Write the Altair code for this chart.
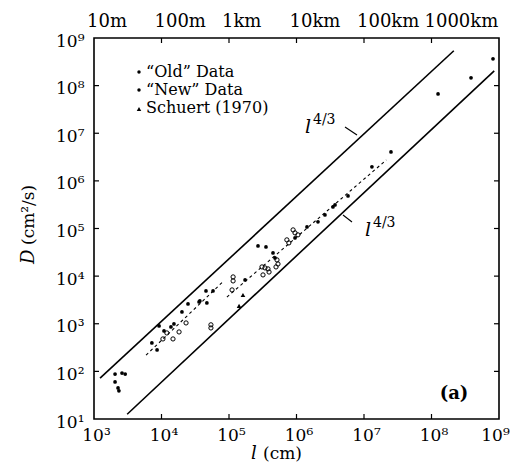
import altair as alt
import pandas as pd

# ---------------- data ----------------
old_l = [2.05e3, 2.6e3, 2.9e3, 2.05e3, 2.27e3, 2.34e3,
         7.2e3, 8.6e3, 9.2e3, 1.09e4, 1.38e4, 1.53e4,
         2.01e4, 2.47e4, 3.6e4, 4.7e4, 4.56e4, 5.8e4, 3.7e4,
         1.73e5, 2.69e5, 3.53e5, 4.49e5, 4.8e5, 9.5e5,
         1.43e6, 2.08e6, 2.64e6, 3.47e6, 3.72e6, 5.8e6,
         1.31e7, 2.51e7, 1.25e8, 3.85e8, 8.15e8]
old_D = [88, 92, 88, 60, 45, 39,
         395, 282, 900, 706, 857, 990,
         1770, 2600, 2870, 2740, 4890, 4890, 3010,
         8300, 43000, 41000, 30700, 24100, 63500,
         1.08e5, 1.38e5, 1.93e5, 2.84e5, 3.13e5, 4.84e5,
         1.97e6, 4.06e6, 6.7e7, 1.46e8, 3.66e8]

new_l = [1.05e4, 1.2e4, 1.48e4, 1.82e4, 2.31e4,
         1.15e5, 1.15e5, 1.11e5, 5.4e4, 5.4e4,
         3.08e5, 3.41e5, 3.78e5, 5.14e5, 5.32e5, 3.19e5, 3.92e5, 4.97e5,
         7.2e5, 7.7e5, 8.9e5, 9.5e5, 1.05e6]
new_D = [480, 641, 480, 673, 1040,
         9620, 7930, 5130, 816, 950,
         15600, 14900, 14200, 21900, 18000, 10600, 12200, 15600,
         57700, 49800, 93500, 81000, 73500]

sch_l = [1.61e5, 1.41e5]
sch_D = [4030, 2370]

upper_l = [1.23e3, 2.14e8]
upper_D = [72, 5.4e8]
lower_l = [3.1e3, 8.5e8]
lower_D = [12.6, 2.04e8]

dash1_l = [5.9e3, 8.1e4]
dash1_D = [219, 7590]
dash2_l = [9.3e4, 2.14e7]
dash2_D = [3630, 2.75e6]

x_ticks = [1e3, 1e4, 1e5, 1e6, 1e7, 1e8, 1e9]
y_ticks = [1e1, 1e2, 1e3, 1e4, 1e5, 1e6, 1e7, 1e8, 1e9]
top_vals = [1e3, 1e4, 1e5, 1e6, 1e7, 1e8]
top_labels = ["10m", "100m", "1km", "10km", "100km", "1000km"]

legend_labels = ["\u201cOld\u201d Data", "\u201cNew\u201d Data", "Schuert (1970)"]

# ---------------- layout ----------------
W, H = 405, 381
FONT = "DejaVu Serif"
sup = "'10' + ['\u2070','\u00b9','\u00b2','\u00b3','\u2074','\u2075','\u2076','\u2077','\u2078','\u2079'][round(log(datum.value)/LN10)]"

xs = alt.Scale(type="log", domain=[1e3, 1e9], nice=False)
ys = alt.Scale(type="log", domain=[1e1, 1e9], nice=False)

x_axis = alt.Axis(values=x_ticks, labelExpr=sup, ticks=False, domain=False, grid=False, title=None,
                  labelFontSize=17, labelPadding=8, labelFont=FONT, labelColor="black",
                  labelFlush=False,
                  labelOffset={"condition": {"test": "datum.value >= 1e9", "value": -4}, "value": 2})
y_axis = alt.Axis(values=y_ticks, labelExpr=sup, ticks=False, domain=False, grid=False, title=None,
                  labelFontSize=17, labelPadding=10, labelFont=FONT, labelColor="black",
                  labelFlush=False, labelBaseline="middle", labelOffset=3)

X = alt.X("l:Q", scale=xs, axis=x_axis)
Y = alt.Y("D:Q", scale=ys, axis=y_axis)

old_df = pd.DataFrame({"l": old_l, "D": old_D})
new_df = pd.DataFrame({"l": new_l, "D": new_D})
sch_df = pd.DataFrame({"l": sch_l, "D": sch_D})
lines_df = pd.DataFrame({
    "l": upper_l + lower_l,
    "D": upper_D + lower_D,
    "g": ["u", "u", "w", "w"],
})
dash_df = pd.DataFrame({
    "l": dash1_l + dash2_l,
    "D": dash1_D + dash2_D,
    "g": ["a", "a", "b", "b"],
})

old_pts = alt.Chart(old_df).mark_circle(size=14, color="black", opacity=1).encode(x=X, y=Y)
new_pts = alt.Chart(new_df).mark_point(shape="circle", filled=False, size=18, strokeWidth=1,
                                       color="black", opacity=1).encode(x=X, y=Y)
sch_pts = alt.Chart(sch_df).mark_point(shape="triangle-up", filled=True, size=22,
                                       color="black", opacity=1).encode(x=X, y=Y)

solid = alt.Chart(lines_df).mark_line(color="black", strokeWidth=1.6).encode(x=X, y=Y, detail="g:N")
dashed = alt.Chart(dash_df).mark_line(color="black", strokeWidth=1.1, strokeDash=[3, 3]).encode(
    x=X, y=Y, detail="g:N")

# inward ticks
xt_df = pd.DataFrame({"l": x_ticks[1:-1]})
yt_df = pd.DataFrame({"D": y_ticks[1:-1]})
tick_bottom = alt.Chart(xt_df).mark_rule(color="black", strokeWidth=1.2).encode(
    x=X, y=alt.value(H), y2=alt.value(H - 5))
tick_top = alt.Chart(xt_df).mark_rule(color="black", strokeWidth=1.2).encode(
    x=X, y=alt.value(0), y2=alt.value(5))
tick_left = alt.Chart(yt_df).mark_rule(color="black", strokeWidth=1.2).encode(
    y=Y, x=alt.value(0), x2=alt.value(5))
tick_right = alt.Chart(yt_df).mark_rule(color="black", strokeWidth=1.2).encode(
    y=Y, x=alt.value(W), x2=alt.value(W - 5))

# top axis labels (length units)
top_df = pd.DataFrame({"l": top_vals, "t": top_labels})
top_text = alt.Chart(top_df).mark_text(align="left", baseline="alphabetic", dx=-7, fontSize=18,
                                       font=FONT, color="black").encode(
    x=X, y=alt.value(-11), text="t:N")


def txt(s, x, y, size=17, style="normal", weight="normal", angle=0, align="left", baseline="alphabetic"):
    return alt.Chart(pd.DataFrame({"t": [s]})).mark_text(
        align=align, baseline=baseline, fontSize=size, font=FONT, fontStyle=style,
        fontWeight=weight, angle=angle, color="black").encode(
        x=alt.value(x), y=alt.value(y), text="t:N")


def seg(x1, y1, x2, y2):
    return alt.Chart(pd.DataFrame({"a": [0]})).mark_rule(color="black", strokeWidth=1.1).encode(
        x=alt.value(x1), y=alt.value(y1), x2=alt.value(x2), y2=alt.value(y2))


def dot(x, y, shape="circle", size=12):
    return alt.Chart(pd.DataFrame({"a": [0]})).mark_point(shape=shape, filled=True, size=size,
                                                          color="black", opacity=1).encode(
        x=alt.value(x), y=alt.value(y))


legend = [
    dot(45, 34), txt(legend_labels[0], 52, 34, size=16, baseline="middle"),
    dot(45, 52), txt(legend_labels[1], 52, 52, size=16, baseline="middle"),
    dot(45, 71, shape="triangle-up", size=20), txt(legend_labels[2], 52, 70, size=16, baseline="middle"),
]

annots = [
    # upper l^{4/3}
    txt("l", 211, 95, size=19, style="italic"),
    txt("4/3", 219, 86, size=14),
    seg(251, 89, 263, 97),
    # lower l^{4/3}
    txt("l", 271, 198, size=19, style="italic"),
    txt("4/3", 279, 189, size=14),
    seg(249, 177, 258, 184),
    # panel label
    txt("(a)", 360, 361, size=18, weight="bold", align="center"),
    # x title
    txt("l", 157, 421, size=18, style="italic"),
    txt("(cm)", 169, 421, size=17),
    # y title
    txt("D", -60, 226, size=18, style="italic", angle=270),
    txt("(cm\u00b2/s)", -60, 207, size=17, angle=270),
]

chart = alt.layer(
    old_pts, new_pts, sch_pts, solid, dashed,
    tick_bottom, tick_top, tick_left, tick_right,
    top_text, *legend, *annots,
).properties(
    width=W, height=H,
    autosize=alt.AutoSizeParams(type="none"),
    padding={"left": 86, "top": 30, "right": 11, "bottom": 43},
    background="white",
).configure_view(stroke="black", strokeWidth=1.6).configure_axis(labelFont=FONT)

chart.save("out.html", embed_options={"renderer": "svg", "actions": False})
